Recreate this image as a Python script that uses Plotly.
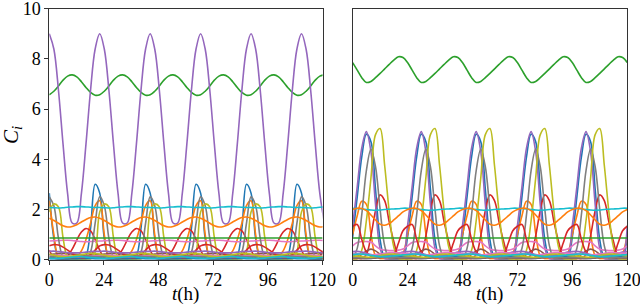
import plotly.graph_objects as go

# ---------------- data ----------------
# left panel sampling times (h)
left_hours = [0, 2.01, 4.03, 6.04, 8.05, 10.07, 12.08, 14.1, 16.11, 18.12, 20.14,
              22.15, 24.16, 26.18, 28.19, 30.2, 32.22, 34.23, 36.25, 38.26, 40.27, 42.29,
              44.3, 46.31, 48.33, 50.34, 52.35, 54.37, 56.38, 58.4, 60.41, 62.42, 64.44,
              66.45, 68.46, 70.48, 72.49, 74.5, 76.52, 78.53, 80.55, 82.56, 84.57, 86.59,
              88.6, 90.61, 92.63, 94.64, 96.65, 98.67, 100.68, 102.7, 104.71, 106.72, 108.74,
              110.75, 112.76, 114.78, 116.79, 118.8, 120.82]
# right panel sampling times (h)
right_hours = [0, 2, 4, 6, 8, 10, 12, 14, 16, 18, 20, 22,
               24, 26, 28, 30, 32, 34, 36, 38, 40, 42, 44, 46,
               48, 50, 52, 54, 56, 58, 60, 62, 64, 66, 68, 70,
               72, 74, 76, 78, 80, 82, 84, 86, 88, 90, 92, 94,
               96, 98, 100, 102, 104, 106, 108, 110, 112, 114, 116, 118, 120]
flat_hours = [0, 120]

# ----- left panel series -----
L_blue = [2.65, 0.85, 0.08, 0.02, 0.02, 0.02, 0.02, 0.02, 0.15, 1.25, 3.0,
          2.65, 0.85, 0.08, 0.02, 0.02, 0.02, 0.02, 0.02, 0.15, 1.25, 3.0,
          2.65, 0.85, 0.08, 0.02, 0.02, 0.02, 0.02, 0.02, 0.15, 1.25, 3.0,
          2.65, 0.85, 0.08, 0.02, 0.02, 0.02, 0.02, 0.02, 0.15, 1.25, 3.0,
          2.65, 0.85, 0.08, 0.02, 0.02, 0.02, 0.02, 0.02, 0.15, 1.25, 3.0,
          2.65, 0.85, 0.08, 0.02, 0.02, 0.02]
L_orange = [2.35, 1.0, 0.08, 0.03, 0.03, 0.05, 0.12, 0.35, 0.8, 1.45, 2.15,
            2.35, 1.0, 0.08, 0.03, 0.03, 0.05, 0.12, 0.35, 0.8, 1.45, 2.15,
            2.35, 1.0, 0.08, 0.03, 0.03, 0.05, 0.12, 0.35, 0.8, 1.45, 2.15,
            2.35, 1.0, 0.08, 0.03, 0.03, 0.05, 0.12, 0.35, 0.8, 1.45, 2.15,
            2.35, 1.0, 0.08, 0.03, 0.03, 0.05, 0.12, 0.35, 0.8, 1.45, 2.15,
            2.35, 1.0, 0.08, 0.03, 0.03, 0.05]
L_green = [6.57, 6.71, 6.92, 7.15, 7.31, 7.36, 7.28, 7.09, 6.86, 6.66, 6.55,
           6.57, 6.71, 6.92, 7.15, 7.31, 7.36, 7.28, 7.09, 6.86, 6.66, 6.55,
           6.57, 6.71, 6.92, 7.15, 7.31, 7.36, 7.28, 7.09, 6.86, 6.66, 6.55,
           6.57, 6.71, 6.92, 7.15, 7.31, 7.36, 7.28, 7.09, 6.86, 6.66, 6.55,
           6.57, 6.71, 6.92, 7.15, 7.31, 7.36, 7.28, 7.09, 6.86, 6.66, 6.55,
           6.57, 6.71, 6.92, 7.15, 7.31, 7.36]
L_red = [0.38, 0.07, 0.03, 0.05, 0.15, 0.42, 0.78, 1.1, 1.24, 1.15, 0.8,
         0.38, 0.07, 0.03, 0.05, 0.15, 0.42, 0.78, 1.1, 1.24, 1.15, 0.8,
         0.38, 0.07, 0.03, 0.05, 0.15, 0.42, 0.78, 1.1, 1.24, 1.15, 0.8,
         0.38, 0.07, 0.03, 0.05, 0.15, 0.42, 0.78, 1.1, 1.24, 1.15, 0.8,
         0.38, 0.07, 0.03, 0.05, 0.15, 0.42, 0.78, 1.1, 1.24, 1.15, 0.8,
         0.38, 0.07, 0.03, 0.05, 0.15, 0.42]
L_purple = [9.0, 8.39, 6.75, 4.6, 2.63, 1.46, 1.46, 2.63, 4.6, 6.75, 8.39,
            9.0, 8.39, 6.75, 4.6, 2.63, 1.46, 1.46, 2.63, 4.6, 6.75, 8.39,
            9.0, 8.39, 6.75, 4.6, 2.63, 1.46, 1.46, 2.63, 4.6, 6.75, 8.39,
            9.0, 8.39, 6.75, 4.6, 2.63, 1.46, 1.46, 2.63, 4.6, 6.75, 8.39,
            9.0, 8.39, 6.75, 4.6, 2.63, 1.46, 1.46, 2.63, 4.6, 6.75, 8.39,
            9.0, 8.39, 6.75, 4.6, 2.63, 1.46]
L_brown = [0.2, 0.22, 0.24, 0.25, 0.24, 0.22, 0.2, 0.18, 0.17, 0.18, 0.19,
           0.2, 0.22, 0.24, 0.25, 0.24, 0.22, 0.2, 0.18, 0.17, 0.18, 0.19,
           0.2, 0.22, 0.24, 0.25, 0.24, 0.22, 0.2, 0.18, 0.17, 0.18, 0.19,
           0.2, 0.22, 0.24, 0.25, 0.24, 0.22, 0.2, 0.18, 0.17, 0.18, 0.19,
           0.2, 0.22, 0.24, 0.25, 0.24, 0.22, 0.2, 0.18, 0.17, 0.18, 0.19,
           0.2, 0.22, 0.24, 0.25, 0.24, 0.22]
L_pink = [0.74, 0.75, 0.76, 0.77, 0.77, 0.76, 0.74, 0.72, 0.71, 0.72, 0.73,
          0.74, 0.75, 0.76, 0.77, 0.77, 0.76, 0.74, 0.72, 0.71, 0.72, 0.73,
          0.74, 0.75, 0.76, 0.77, 0.77, 0.76, 0.74, 0.72, 0.71, 0.72, 0.73,
          0.74, 0.75, 0.76, 0.77, 0.77, 0.76, 0.74, 0.72, 0.71, 0.72, 0.73,
          0.74, 0.75, 0.76, 0.77, 0.77, 0.76, 0.74, 0.72, 0.71, 0.72, 0.73,
          0.74, 0.75, 0.76, 0.77, 0.77, 0.76]
L_gray = [2.5, 2.15, 0.85, 0.1, 0.02, 0.02, 0.02, 0.02, 0.02, 0.3, 1.45,
          2.5, 2.15, 0.85, 0.1, 0.02, 0.02, 0.02, 0.02, 0.02, 0.3, 1.45,
          2.5, 2.15, 0.85, 0.1, 0.02, 0.02, 0.02, 0.02, 0.02, 0.3, 1.45,
          2.5, 2.15, 0.85, 0.1, 0.02, 0.02, 0.02, 0.02, 0.02, 0.3, 1.45,
          2.5, 2.15, 0.85, 0.1, 0.02, 0.02, 0.02, 0.02, 0.02, 0.3, 1.45,
          2.5, 2.15, 0.85, 0.1, 0.02, 0.02]
L_olive = [1.9, 2.22, 2.1, 0.88, 0.08, 0.02, 0.02, 0.02, 0.02, 0.02, 0.3,
           1.9, 2.22, 2.1, 0.88, 0.08, 0.02, 0.02, 0.02, 0.02, 0.02, 0.3,
           1.9, 2.22, 2.1, 0.88, 0.08, 0.02, 0.02, 0.02, 0.02, 0.02, 0.3,
           1.9, 2.22, 2.1, 0.88, 0.08, 0.02, 0.02, 0.02, 0.02, 0.02, 0.3,
           1.9, 2.22, 2.1, 0.88, 0.08, 0.02, 0.02, 0.02, 0.02, 0.02, 0.3,
           1.9, 2.22, 2.1, 0.88, 0.08, 0.02]
L_cyan = [2.08, 2.07, 2.06, 2.07, 2.09, 2.1, 2.11, 2.11, 2.1, 2.09, 2.08,
          2.08, 2.07, 2.06, 2.07, 2.09, 2.1, 2.11, 2.11, 2.1, 2.09, 2.08,
          2.08, 2.07, 2.06, 2.07, 2.09, 2.1, 2.11, 2.11, 2.1, 2.09, 2.08,
          2.08, 2.07, 2.06, 2.07, 2.09, 2.1, 2.11, 2.11, 2.1, 2.09, 2.08,
          2.08, 2.07, 2.06, 2.07, 2.09, 2.1, 2.11, 2.11, 2.1, 2.09, 2.08,
          2.08, 2.07, 2.06, 2.07, 2.09, 2.1]
L_blue2 = [0.03, 0.03, 0.02, 0.02, 0.02, 0.03, 0.03, 0.04, 0.04, 0.04, 0.03,
           0.03, 0.03, 0.02, 0.02, 0.02, 0.03, 0.03, 0.04, 0.04, 0.04, 0.03,
           0.03, 0.03, 0.02, 0.02, 0.02, 0.03, 0.03, 0.04, 0.04, 0.04, 0.03,
           0.03, 0.03, 0.02, 0.02, 0.02, 0.03, 0.03, 0.04, 0.04, 0.04, 0.03,
           0.03, 0.03, 0.02, 0.02, 0.02, 0.03, 0.03, 0.04, 0.04, 0.04, 0.03,
           0.03, 0.03, 0.02, 0.02, 0.02, 0.03]
L_orange2 = [1.65, 1.56, 1.45, 1.35, 1.3, 1.32, 1.39, 1.5, 1.6, 1.68, 1.7,
             1.65, 1.56, 1.45, 1.35, 1.3, 1.32, 1.39, 1.5, 1.6, 1.68, 1.7,
             1.65, 1.56, 1.45, 1.35, 1.3, 1.32, 1.39, 1.5, 1.6, 1.68, 1.7,
             1.65, 1.56, 1.45, 1.35, 1.3, 1.32, 1.39, 1.5, 1.6, 1.68, 1.7,
             1.65, 1.56, 1.45, 1.35, 1.3, 1.32, 1.39, 1.5, 1.6, 1.68, 1.7,
             1.65, 1.56, 1.45, 1.35, 1.3, 1.32]
L_green2 = [0.86, 0.86]
L_red2 = [0.55, 0.6, 0.58, 0.5, 0.38, 0.25, 0.14, 0.08, 0.1, 0.2, 0.38,
          0.55, 0.6, 0.58, 0.5, 0.38, 0.25, 0.14, 0.08, 0.1, 0.2, 0.38,
          0.55, 0.6, 0.58, 0.5, 0.38, 0.25, 0.14, 0.08, 0.1, 0.2, 0.38,
          0.55, 0.6, 0.58, 0.5, 0.38, 0.25, 0.14, 0.08, 0.1, 0.2, 0.38,
          0.55, 0.6, 0.58, 0.5, 0.38, 0.25, 0.14, 0.08, 0.1, 0.2, 0.38,
          0.55, 0.6, 0.58, 0.5, 0.38, 0.25]
L_purple2 = [0.33, 0.34, 0.32, 0.3, 0.28, 0.27, 0.27, 0.28, 0.3, 0.32, 0.33,
             0.33, 0.34, 0.32, 0.3, 0.28, 0.27, 0.27, 0.28, 0.3, 0.32, 0.33,
             0.33, 0.34, 0.32, 0.3, 0.28, 0.27, 0.27, 0.28, 0.3, 0.32, 0.33,
             0.33, 0.34, 0.32, 0.3, 0.28, 0.27, 0.27, 0.28, 0.3, 0.32, 0.33,
             0.33, 0.34, 0.32, 0.3, 0.28, 0.27, 0.27, 0.28, 0.3, 0.32, 0.33,
             0.33, 0.34, 0.32, 0.3, 0.28, 0.27]
L_brown2 = [0.08, 0.06, 0.05, 0.05, 0.06, 0.08, 0.1, 0.12, 0.12, 0.11, 0.1,
            0.08, 0.06, 0.05, 0.05, 0.06, 0.08, 0.1, 0.12, 0.12, 0.11, 0.1,
            0.08, 0.06, 0.05, 0.05, 0.06, 0.08, 0.1, 0.12, 0.12, 0.11, 0.1,
            0.08, 0.06, 0.05, 0.05, 0.06, 0.08, 0.1, 0.12, 0.12, 0.11, 0.1,
            0.08, 0.06, 0.05, 0.05, 0.06, 0.08, 0.1, 0.12, 0.12, 0.11, 0.1,
            0.08, 0.06, 0.05, 0.05, 0.06, 0.08]
L_pink2 = [0.15, 0.17, 0.18, 0.17, 0.15, 0.13, 0.12, 0.12, 0.13, 0.14, 0.15,
           0.15, 0.17, 0.18, 0.17, 0.15, 0.13, 0.12, 0.12, 0.13, 0.14, 0.15,
           0.15, 0.17, 0.18, 0.17, 0.15, 0.13, 0.12, 0.12, 0.13, 0.14, 0.15,
           0.15, 0.17, 0.18, 0.17, 0.15, 0.13, 0.12, 0.12, 0.13, 0.14, 0.15,
           0.15, 0.17, 0.18, 0.17, 0.15, 0.13, 0.12, 0.12, 0.13, 0.14, 0.15,
           0.15, 0.17, 0.18, 0.17, 0.15, 0.13]
L_gray2 = [0.12, 0.12, 0.11, 0.1, 0.1, 0.11, 0.12, 0.13, 0.13, 0.13, 0.12,
           0.12, 0.12, 0.11, 0.1, 0.1, 0.11, 0.12, 0.13, 0.13, 0.13, 0.12,
           0.12, 0.12, 0.11, 0.1, 0.1, 0.11, 0.12, 0.13, 0.13, 0.13, 0.12,
           0.12, 0.12, 0.11, 0.1, 0.1, 0.11, 0.12, 0.13, 0.13, 0.13, 0.12,
           0.12, 0.12, 0.11, 0.1, 0.1, 0.11, 0.12, 0.13, 0.13, 0.13, 0.12,
           0.12, 0.12, 0.11, 0.1, 0.1, 0.11]
L_olive2 = [0.22, 0.18, 0.14, 0.12, 0.12, 0.14, 0.17, 0.2, 0.23, 0.25, 0.24,
            0.22, 0.18, 0.14, 0.12, 0.12, 0.14, 0.17, 0.2, 0.23, 0.25, 0.24,
            0.22, 0.18, 0.14, 0.12, 0.12, 0.14, 0.17, 0.2, 0.23, 0.25, 0.24,
            0.22, 0.18, 0.14, 0.12, 0.12, 0.14, 0.17, 0.2, 0.23, 0.25, 0.24,
            0.22, 0.18, 0.14, 0.12, 0.12, 0.14, 0.17, 0.2, 0.23, 0.25, 0.24,
            0.22, 0.18, 0.14, 0.12, 0.12, 0.14]
L_cyan2 = [0.06, 0.05, 0.05, 0.06, 0.08, 0.1, 0.12, 0.12, 0.1, 0.08, 0.07,
           0.06, 0.05, 0.05, 0.06, 0.08, 0.1, 0.12, 0.12, 0.1, 0.08, 0.07,
           0.06, 0.05, 0.05, 0.06, 0.08, 0.1, 0.12, 0.12, 0.1, 0.08, 0.07,
           0.06, 0.05, 0.05, 0.06, 0.08, 0.1, 0.12, 0.12, 0.1, 0.08, 0.07,
           0.06, 0.05, 0.05, 0.06, 0.08, 0.1, 0.12, 0.12, 0.1, 0.08, 0.07,
           0.06, 0.05, 0.05, 0.06, 0.08, 0.1]

# ----- right panel series -----
R_blue = [0.9, 2.5, 4.1, 5.0, 4.7, 2.8, 0.8, 0.08, 0.03, 0.03, 0.03, 0.05,
          0.9, 2.5, 4.1, 5.0, 4.7, 2.8, 0.8, 0.08, 0.03, 0.03, 0.03, 0.05,
          0.9, 2.5, 4.1, 5.0, 4.7, 2.8, 0.8, 0.08, 0.03, 0.03, 0.03, 0.05,
          0.9, 2.5, 4.1, 5.0, 4.7, 2.8, 0.8, 0.08, 0.03, 0.03, 0.03, 0.05,
          0.9, 2.5, 4.1, 5.0, 4.7, 2.8, 0.8, 0.08, 0.03, 0.03, 0.03, 0.05,
          0.9]
R_orange = [1.0, 1.75, 2.33, 2.2, 1.05, 0.15, 0.04, 0.04, 0.04, 0.04, 0.08, 0.25,
            1.0, 1.75, 2.33, 2.2, 1.05, 0.15, 0.04, 0.04, 0.04, 0.04, 0.08, 0.25,
            1.0, 1.75, 2.33, 2.2, 1.05, 0.15, 0.04, 0.04, 0.04, 0.04, 0.08, 0.25,
            1.0, 1.75, 2.33, 2.2, 1.05, 0.15, 0.04, 0.04, 0.04, 0.04, 0.08, 0.25,
            1.0, 1.75, 2.33, 2.2, 1.05, 0.15, 0.04, 0.04, 0.04, 0.04, 0.08, 0.25,
            1.0]
R_green = [7.85, 7.55, 7.25, 7.06, 7.1, 7.25, 7.42, 7.6, 7.78, 7.95, 8.08, 8.05,
           7.85, 7.55, 7.25, 7.06, 7.1, 7.25, 7.42, 7.6, 7.78, 7.95, 8.08, 8.05,
           7.85, 7.55, 7.25, 7.06, 7.1, 7.25, 7.42, 7.6, 7.78, 7.95, 8.08, 8.05,
           7.85, 7.55, 7.25, 7.06, 7.1, 7.25, 7.42, 7.6, 7.78, 7.95, 8.08, 8.05,
           7.85, 7.55, 7.25, 7.06, 7.1, 7.25, 7.42, 7.6, 7.78, 7.95, 8.08, 8.05,
           7.85]
R_red = [0.05, 0.05, 0.05, 0.2, 0.95, 1.95, 2.58, 2.35, 1.5, 0.72, 0.15, 0.05,
         0.05, 0.05, 0.05, 0.2, 0.95, 1.95, 2.58, 2.35, 1.5, 0.72, 0.15, 0.05,
         0.05, 0.05, 0.05, 0.2, 0.95, 1.95, 2.58, 2.35, 1.5, 0.72, 0.15, 0.05,
         0.05, 0.05, 0.05, 0.2, 0.95, 1.95, 2.58, 2.35, 1.5, 0.72, 0.15, 0.05,
         0.05, 0.05, 0.05, 0.2, 0.95, 1.95, 2.58, 2.35, 1.5, 0.72, 0.15, 0.05,
         0.05]
R_purple = [1.35, 2.9, 4.45, 5.1, 4.3, 2.2, 0.45, 0.04, 0.02, 0.02, 0.02, 0.1,
            1.35, 2.9, 4.45, 5.1, 4.3, 2.2, 0.45, 0.04, 0.02, 0.02, 0.02, 0.1,
            1.35, 2.9, 4.45, 5.1, 4.3, 2.2, 0.45, 0.04, 0.02, 0.02, 0.02, 0.1,
            1.35, 2.9, 4.45, 5.1, 4.3, 2.2, 0.45, 0.04, 0.02, 0.02, 0.02, 0.1,
            1.35, 2.9, 4.45, 5.1, 4.3, 2.2, 0.45, 0.04, 0.02, 0.02, 0.02, 0.1,
            1.35]
R_brown = [0.12, 0.13, 0.2, 0.35, 0.42, 0.35, 0.22, 0.14, 0.12, 0.1, 0.1, 0.11,
           0.12, 0.13, 0.2, 0.35, 0.42, 0.35, 0.22, 0.14, 0.12, 0.1, 0.1, 0.11,
           0.12, 0.13, 0.2, 0.35, 0.42, 0.35, 0.22, 0.14, 0.12, 0.1, 0.1, 0.11,
           0.12, 0.13, 0.2, 0.35, 0.42, 0.35, 0.22, 0.14, 0.12, 0.1, 0.1, 0.11,
           0.12, 0.13, 0.2, 0.35, 0.42, 0.35, 0.22, 0.14, 0.12, 0.1, 0.1, 0.11,
           0.12]
R_pink = [0.55, 0.68, 0.72, 0.72, 0.7, 0.55, 0.42, 0.38, 0.36, 0.36, 0.38, 0.42,
          0.55, 0.68, 0.72, 0.72, 0.7, 0.55, 0.42, 0.38, 0.36, 0.36, 0.38, 0.42,
          0.55, 0.68, 0.72, 0.72, 0.7, 0.55, 0.42, 0.38, 0.36, 0.36, 0.38, 0.42,
          0.55, 0.68, 0.72, 0.72, 0.7, 0.55, 0.42, 0.38, 0.36, 0.36, 0.38, 0.42,
          0.55, 0.68, 0.72, 0.72, 0.7, 0.55, 0.42, 0.38, 0.36, 0.36, 0.38, 0.42,
          0.55]
R_gray = [0.03, 0.45, 1.8, 3.55, 4.4, 3.7, 2.0, 0.55, 0.04, 0.03, 0.03, 0.03,
          0.03, 0.45, 1.8, 3.55, 4.4, 3.7, 2.0, 0.55, 0.04, 0.03, 0.03, 0.03,
          0.03, 0.45, 1.8, 3.55, 4.4, 3.7, 2.0, 0.55, 0.04, 0.03, 0.03, 0.03,
          0.03, 0.45, 1.8, 3.55, 4.4, 3.7, 2.0, 0.55, 0.04, 0.03, 0.03, 0.03,
          0.03, 0.45, 1.8, 3.55, 4.4, 3.7, 2.0, 0.55, 0.04, 0.03, 0.03, 0.03,
          0.03]
R_olive = [0.02, 0.03, 0.38, 1.55, 3.25, 4.98, 5.22, 3.75, 1.9, 0.5, 0.05, 0.02,
           0.02, 0.03, 0.38, 1.55, 3.25, 4.98, 5.22, 3.75, 1.9, 0.5, 0.05, 0.02,
           0.02, 0.03, 0.38, 1.55, 3.25, 4.98, 5.22, 3.75, 1.9, 0.5, 0.05, 0.02,
           0.02, 0.03, 0.38, 1.55, 3.25, 4.98, 5.22, 3.75, 1.9, 0.5, 0.05, 0.02,
           0.02, 0.03, 0.38, 1.55, 3.25, 4.98, 5.22, 3.75, 1.9, 0.5, 0.05, 0.02,
           0.02]
R_cyan = [2.05, 2.04, 2.02, 2.0, 1.98, 1.97, 1.98, 2.0, 2.01, 2.02, 2.03, 2.05,
          2.05, 2.04, 2.02, 2.0, 1.98, 1.97, 1.98, 2.0, 2.01, 2.02, 2.03, 2.05,
          2.05, 2.04, 2.02, 2.0, 1.98, 1.97, 1.98, 2.0, 2.01, 2.02, 2.03, 2.05,
          2.05, 2.04, 2.02, 2.0, 1.98, 1.97, 1.98, 2.0, 2.01, 2.02, 2.03, 2.05,
          2.05, 2.04, 2.02, 2.0, 1.98, 1.97, 1.98, 2.0, 2.01, 2.02, 2.03, 2.05,
          2.05]
R_blue2 = [0.1, 0.08, 0.06, 0.05, 0.05, 0.08, 0.15, 0.2, 0.2, 0.18, 0.14, 0.12,
           0.1, 0.08, 0.06, 0.05, 0.05, 0.08, 0.15, 0.2, 0.2, 0.18, 0.14, 0.12,
           0.1, 0.08, 0.06, 0.05, 0.05, 0.08, 0.15, 0.2, 0.2, 0.18, 0.14, 0.12,
           0.1, 0.08, 0.06, 0.05, 0.05, 0.08, 0.15, 0.2, 0.2, 0.18, 0.14, 0.12,
           0.1, 0.08, 0.06, 0.05, 0.05, 0.08, 0.15, 0.2, 0.2, 0.18, 0.14, 0.12,
           0.1]
R_orange2 = [2.0, 2.05, 2.04, 1.95, 1.78, 1.58, 1.41, 1.37, 1.44, 1.58, 1.74, 1.9,
             2.0, 2.05, 2.04, 1.95, 1.78, 1.58, 1.41, 1.37, 1.44, 1.58, 1.74, 1.9,
             2.0, 2.05, 2.04, 1.95, 1.78, 1.58, 1.41, 1.37, 1.44, 1.58, 1.74, 1.9,
             2.0, 2.05, 2.04, 1.95, 1.78, 1.58, 1.41, 1.37, 1.44, 1.58, 1.74, 1.9,
             2.0, 2.05, 2.04, 1.95, 1.78, 1.58, 1.41, 1.37, 1.44, 1.58, 1.74, 1.9,
             2.0]
R_green2 = [0.86, 0.86]
R_red2 = [1.33, 1.4, 0.8, 0.3, 0.13, 0.1, 0.1, 0.1, 0.12, 0.2, 0.65, 1.15,
          1.33, 1.4, 0.8, 0.3, 0.13, 0.1, 0.1, 0.1, 0.12, 0.2, 0.65, 1.15,
          1.33, 1.4, 0.8, 0.3, 0.13, 0.1, 0.1, 0.1, 0.12, 0.2, 0.65, 1.15,
          1.33, 1.4, 0.8, 0.3, 0.13, 0.1, 0.1, 0.1, 0.12, 0.2, 0.65, 1.15,
          1.33, 1.4, 0.8, 0.3, 0.13, 0.1, 0.1, 0.1, 0.12, 0.2, 0.65, 1.15,
          1.33]
R_purple2 = [0.32, 0.33, 0.3, 0.25, 0.2, 0.16, 0.14, 0.14, 0.16, 0.2, 0.25, 0.3,
             0.32, 0.33, 0.3, 0.25, 0.2, 0.16, 0.14, 0.14, 0.16, 0.2, 0.25, 0.3,
             0.32, 0.33, 0.3, 0.25, 0.2, 0.16, 0.14, 0.14, 0.16, 0.2, 0.25, 0.3,
             0.32, 0.33, 0.3, 0.25, 0.2, 0.16, 0.14, 0.14, 0.16, 0.2, 0.25, 0.3,
             0.32, 0.33, 0.3, 0.25, 0.2, 0.16, 0.14, 0.14, 0.16, 0.2, 0.25, 0.3,
             0.32]
R_brown2 = [0.05, 0.05, 0.04, 0.04, 0.05, 0.06, 0.08, 0.1, 0.1, 0.09, 0.07, 0.06,
            0.05, 0.05, 0.04, 0.04, 0.05, 0.06, 0.08, 0.1, 0.1, 0.09, 0.07, 0.06,
            0.05, 0.05, 0.04, 0.04, 0.05, 0.06, 0.08, 0.1, 0.1, 0.09, 0.07, 0.06,
            0.05, 0.05, 0.04, 0.04, 0.05, 0.06, 0.08, 0.1, 0.1, 0.09, 0.07, 0.06,
            0.05, 0.05, 0.04, 0.04, 0.05, 0.06, 0.08, 0.1, 0.1, 0.09, 0.07, 0.06,
            0.05]
R_pink2 = [0.25, 0.24, 0.22, 0.2, 0.19, 0.2, 0.22, 0.25, 0.27, 0.28, 0.27, 0.26,
           0.25, 0.24, 0.22, 0.2, 0.19, 0.2, 0.22, 0.25, 0.27, 0.28, 0.27, 0.26,
           0.25, 0.24, 0.22, 0.2, 0.19, 0.2, 0.22, 0.25, 0.27, 0.28, 0.27, 0.26,
           0.25, 0.24, 0.22, 0.2, 0.19, 0.2, 0.22, 0.25, 0.27, 0.28, 0.27, 0.26,
           0.25, 0.24, 0.22, 0.2, 0.19, 0.2, 0.22, 0.25, 0.27, 0.28, 0.27, 0.26,
           0.25]
R_gray2 = [0.08, 0.08, 0.07, 0.07, 0.07, 0.08, 0.09, 0.1, 0.1, 0.1, 0.09, 0.08,
           0.08, 0.08, 0.07, 0.07, 0.07, 0.08, 0.09, 0.1, 0.1, 0.1, 0.09, 0.08,
           0.08, 0.08, 0.07, 0.07, 0.07, 0.08, 0.09, 0.1, 0.1, 0.1, 0.09, 0.08,
           0.08, 0.08, 0.07, 0.07, 0.07, 0.08, 0.09, 0.1, 0.1, 0.1, 0.09, 0.08,
           0.08, 0.08, 0.07, 0.07, 0.07, 0.08, 0.09, 0.1, 0.1, 0.1, 0.09, 0.08,
           0.08]
R_olive2 = [0.15, 0.14, 0.12, 0.1, 0.1, 0.12, 0.16, 0.2, 0.22, 0.22, 0.2, 0.17,
            0.15, 0.14, 0.12, 0.1, 0.1, 0.12, 0.16, 0.2, 0.22, 0.22, 0.2, 0.17,
            0.15, 0.14, 0.12, 0.1, 0.1, 0.12, 0.16, 0.2, 0.22, 0.22, 0.2, 0.17,
            0.15, 0.14, 0.12, 0.1, 0.1, 0.12, 0.16, 0.2, 0.22, 0.22, 0.2, 0.17,
            0.15, 0.14, 0.12, 0.1, 0.1, 0.12, 0.16, 0.2, 0.22, 0.22, 0.2, 0.17,
            0.15]
R_cyan2 = [0.2, 0.22, 0.22, 0.2, 0.17, 0.14, 0.12, 0.12, 0.13, 0.15, 0.17, 0.19,
           0.2, 0.22, 0.22, 0.2, 0.17, 0.14, 0.12, 0.12, 0.13, 0.15, 0.17, 0.19,
           0.2, 0.22, 0.22, 0.2, 0.17, 0.14, 0.12, 0.12, 0.13, 0.15, 0.17, 0.19,
           0.2, 0.22, 0.22, 0.2, 0.17, 0.14, 0.12, 0.12, 0.13, 0.15, 0.17, 0.19,
           0.2, 0.22, 0.22, 0.2, 0.17, 0.14, 0.12, 0.12, 0.13, 0.15, 0.17, 0.19,
           0.2]

x_ticks = [0, 24, 48, 72, 96, 120]
y_ticks = [0, 2, 4, 6, 8, 10]

# ---------------- figure ----------------
tab10 = ["#1f77b4", "#ff7f0e", "#2ca02c", "#d62728", "#9467bd",
         "#8c564b", "#e377c2", "#7f7f7f", "#bcbd22", "#17becf"]

left_series = [L_blue, L_orange, L_green, L_red, L_purple, L_brown, L_pink, L_gray, L_olive, L_cyan,
               L_blue2, L_orange2, L_green2, L_red2, L_purple2, L_brown2, L_pink2, L_gray2, L_olive2, L_cyan2]
right_series = [R_blue, R_orange, R_green, R_red, R_purple, R_brown, R_pink, R_gray, R_olive, R_cyan,
                R_blue2, R_orange2, R_green2, R_red2, R_purple2, R_brown2, R_pink2, R_gray2, R_olive2, R_cyan2]

fig = go.Figure()
for k, ys in enumerate(left_series):
    xs = flat_hours if len(ys) == 2 else left_hours
    fig.add_trace(go.Scatter(x=xs, y=ys, mode="lines", xaxis="x", yaxis="y",
                             line=dict(color=tab10[k % 10], width=1.6, shape="spline", smoothing=1.0),
                             showlegend=False, hoverinfo="skip"))
for k, ys in enumerate(right_series):
    xs = flat_hours if len(ys) == 2 else right_hours
    fig.add_trace(go.Scatter(x=xs, y=ys, mode="lines", xaxis="x2", yaxis="y2",
                             line=dict(color=tab10[k % 10], width=1.6, shape="spline", smoothing=1.0),
                             showlegend=False, hoverinfo="skip"))

serif = "Liberation Serif"
frame = dict(showline=True, mirror=True, linecolor="#333333", linewidth=1,
             showgrid=False, zeroline=False, automargin=False)
ydom = [0.157, 0.972]
tf = dict(family=serif, size=18, color="black")

fig.update_layout(
    width=640, height=308,
    margin=dict(l=0, r=0, t=0, b=0, autoexpand=False),
    paper_bgcolor="white", plot_bgcolor="white",
    font=dict(family=serif, size=18, color="black"),
    hovermode=False,
    xaxis=dict(domain=[0.077, 0.504], range=[0, 120], tickvals=x_ticks,
               ticks="outside", ticklen=4, tickcolor="#333333", anchor="y",
               tickfont=tf, ticklabeloverflow="allow", **frame),
    yaxis=dict(domain=ydom, range=[0, 10], tickvals=y_ticks,
               ticks="outside", ticklen=4, tickcolor="#333333", anchor="x",
               tickfont=tf, ticklabeloverflow="allow", **frame),
    xaxis2=dict(domain=[0.551, 0.980], range=[0, 120], tickvals=x_ticks,
                ticks="outside", ticklen=4, tickcolor="#333333", anchor="y2",
                tickfont=tf, ticklabeloverflow="allow", **frame),
    yaxis2=dict(domain=ydom, range=[0, 10], tickvals=y_ticks, showticklabels=False,
                ticks="", anchor="x2", **frame),
    annotations=[
        dict(text="<i>t</i>(h)", x=0.2905, y=0.044, xref="paper", yref="paper",
             xanchor="center", yanchor="middle",
             showarrow=False, font=dict(family=serif, size=19, color="black")),
        dict(text="<i>t</i>(h)", x=0.7655, y=0.044, xref="paper", yref="paper",
             xanchor="center", yanchor="middle",
             showarrow=False, font=dict(family=serif, size=19, color="black")),
        dict(text="<i>C<sub>i</sub></i>", x=0.018, y=0.56, xref="paper", yref="paper",
             xanchor="center", yanchor="middle",
             showarrow=False, textangle=-90, font=dict(family=serif, size=21, color="black")),
    ],
)

fig.write_html("out.html", config={"displayModeBar": False, "staticPlot": True},
               post_script="document.body.style.margin='0px';document.body.style.padding='0px';"
                           "document.documentElement.style.overflow='hidden';")
